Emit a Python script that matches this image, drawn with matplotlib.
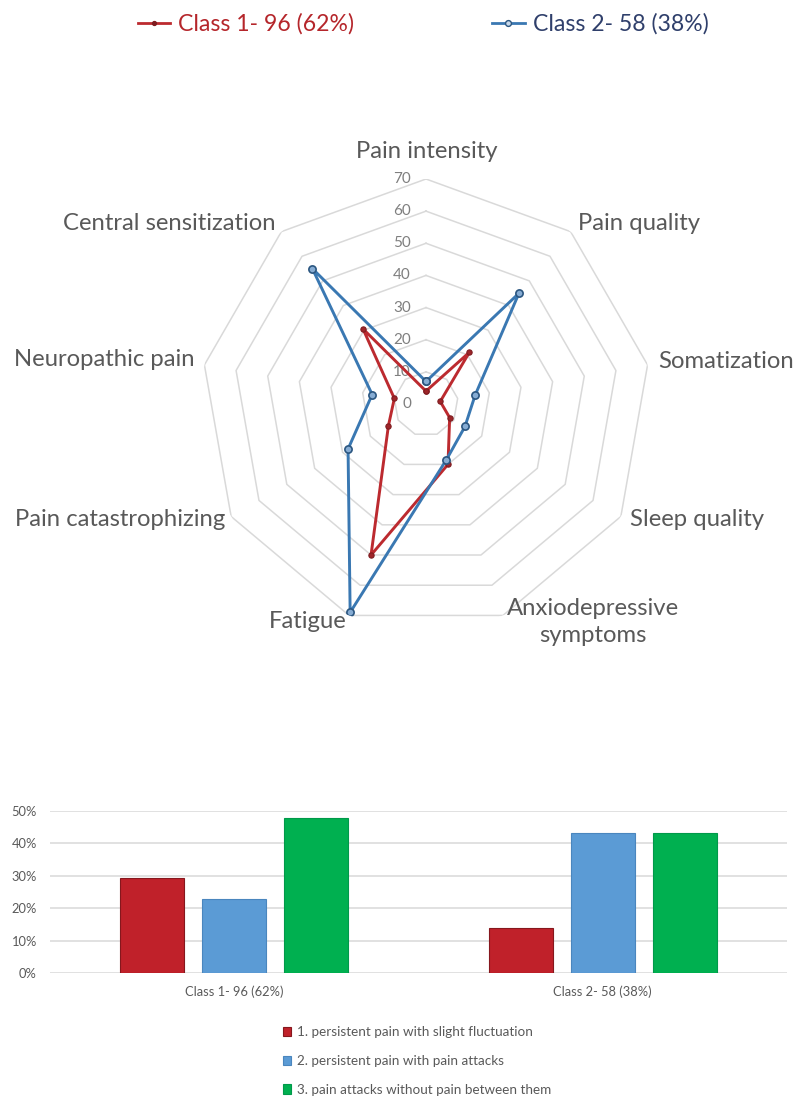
import numpy as np
import matplotlib
matplotlib.use('Agg')
import matplotlib.pyplot as plt
from matplotlib.lines import Line2D
from matplotlib.patches import Patch
from matplotlib.transforms import offset_copy

plt.rcParams['font.family'] = ['Lato', 'DejaVu Sans']

# ---------------- data ----------------
categories = ["Pain intensity", "Pain quality", "Somatization", "Sleep quality",
              "Anxiodepressive\nsymptoms", "Fatigue", "Pain catastrophizing",
              "Neuropathic pain", "Central sensitization"]
class1_values = [4, 21, 4.5, 8.5, 20, 50, 13.5, 10, 30.5]
class2_values = [7, 45, 15.5, 14, 18.5, 69, 28, 17, 55]
radar_ticks = [0, 10, 20, 30, 40, 50, 60, 70]
series_labels = ["Class 1- 96 (62%)", "Class 2- 58 (38%)"]

bar_groups = ["Class 1- 96 (62%)", "Class 2- 58 (38%)"]
pattern_labels = ["1. persistent pain with slight fluctuation",
                  "2. persistent pain with pain attacks",
                  "3. pain attacks without pain between them"]
pattern1 = [29.2, 13.8]
pattern2 = [22.9, 43.1]
pattern3 = [47.9, 43.1]
bar_ticks = [0, 10, 20, 30, 40, 50]

# ---------------- layout helpers ----------------
W, H = 800, 1109
fig = plt.figure(figsize=(W / 100, H / 100), dpi=100)


def fx(x):
    return x / W


def fy(y):
    return 1 - y / H


RED = '#BC2A2F'
BLUE = '#3A78B2'

# ---------------- radar ----------------
cx, cy, R = 426, 404, 225
ax = fig.add_axes([fx(cx - R), fy(cy + R), 2 * R / W, 2 * R / H], projection='polar')
ax.set_theta_zero_location('N')
ax.set_theta_direction(-1)
ax.set_ylim(0, 70)
ax.grid(False)
ax.spines['polar'].set_visible(False)
ax.set_xticks([])
ax.set_yticks([])
ax.patch.set_alpha(0)

n = len(categories)
theta = np.deg2rad(np.arange(n) * 360.0 / n)
theta_c = np.append(theta, theta[0])

for r in radar_ticks[1:]:
    ax.plot(theta_c, [r] * (n + 1), color='#D9D9D9', lw=1.1, zorder=1)

tick_tr = offset_copy(ax.transData, fig=fig, x=-15, y=0, units='dots')
for t in radar_ticks:
    ax.text(0, t, str(t), transform=tick_tr, ha='right', va='center',
            fontsize=11, color='#7F7F7F', zorder=2)

c1 = np.append(class1_values, class1_values[0])
c2 = np.append(class2_values, class2_values[0])
ax.plot(theta_c, c1, color=RED, lw=2.1, marker='o', ms=3.8,
        mfc='#9E2529', mec='#7E1C20', mew=0.8, zorder=3)
ax.plot(theta_c, c2, color=BLUE, lw=2.1, marker='o', ms=5.2,
        mfc='#86ACD3', mec='#2B5680', mew=1.2, zorder=4)

label_pos = [  # (x px, y px, ha)
    (427, 151, 'center'),
    (578, 224, 'left'),
    (658, 362, 'left'),
    (630, 519, 'left'),
    (593, 622, 'center'),
    (347, 622, 'right'),
    (225, 519, 'right'),
    (195, 360, 'right'),
    (276, 223, 'right'),
]
for name, (x, y, ha) in zip(categories, label_pos):
    fig.text(fx(x), fy(y), name, ha=ha, va='center', fontsize=17.2,
             color='#595959', multialignment='center', linespacing=1.3)

leg_handles = [
    Line2D([], [], color=RED, lw=2.0, marker='o', ms=2.8, mfc='#7E1C20', mec='#7E1C20'),
    Line2D([], [], color=BLUE, lw=2.0, marker='o', ms=4.2, mfc='#C9D9EA', mec='#2B5680', mew=1.0),
]
fig.legend(handles=leg_handles, labels=series_labels,
           loc='center', bbox_to_anchor=(fx(423), fy(24)), ncol=2, frameon=False,
           fontsize=16.6, labelcolor=['#B5262B', '#2F3F6B'], handlelength=1.4,
           handletextpad=0.35, columnspacing=6.0, numpoints=1)

# ---------------- bars ----------------
bx = fig.add_axes([fx(50), fy(973), 737 / W, 162 / H])
x = np.arange(len(bar_groups))
bw = 0.174
step = 0.2225
bar_colors = ['#C0212A', '#5B9BD5', '#00B050']
edge_colors = ['#86171D', '#4A86BE', '#00994A']
for i, vals in enumerate([pattern1, pattern2, pattern3]):
    bx.bar(x + (i - 1) * step, vals, width=bw, color=bar_colors[i],
           edgecolor=edge_colors[i], linewidth=0.8, zorder=3,
           label=pattern_labels[i])

bx.set_xlim(-0.5, 1.5)
bx.set_ylim(0, 50)
bx.set_yticks(bar_ticks)
bx.set_yticklabels([f"{t}%" for t in bar_ticks])
bx.set_xticks(x)
bx.set_xticklabels(bar_groups)
bx.yaxis.grid(True, color='#D9D9D9', lw=1.1, zorder=0)
bx.set_axisbelow(True)
for s in bx.spines.values():
    s.set_visible(False)
bx.tick_params(axis='both', length=0, labelsize=9.3, colors='#595959')
bx.tick_params(axis='y', pad=9.5)
bx.tick_params(axis='x', pad=9)

fig.legend(handles=[Patch(facecolor=c, edgecolor=e, lw=0.8) for c, e in zip(bar_colors, edge_colors)],
           labels=pattern_labels, loc='upper left', bbox_to_anchor=(fx(271), fy(1014)),
           frameon=False, fontsize=9.7, labelcolor='#595959', handlelength=0.6,
           handleheight=0.7, handletextpad=0.4, labelspacing=1.25)

fig.savefig('out.png', dpi=100)
